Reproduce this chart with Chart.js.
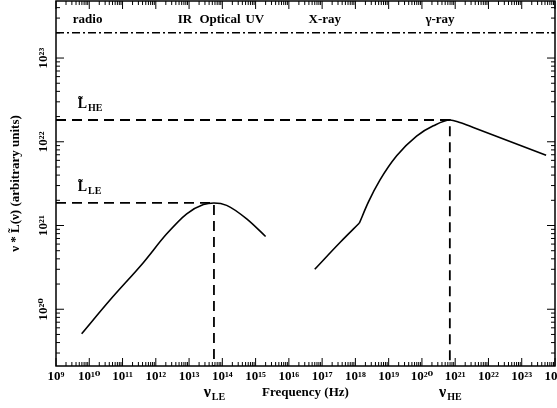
<!DOCTYPE html>
<html>
<head>
<meta charset="utf-8">
<script src="https://cdn.jsdelivr.net/npm/chart.js@4"></script>
<style>
  html, body { margin: 0; padding: 0; background: #fff; }
</style>
</head>
<body>
<canvas id="c" width="557" height="408"></canvas>
<script>
// low energy hump (synchrotron-like)
const lowFreq = [5.9e9, 4.2e10, 4.2e11, 2.1e12, 8.5e12, 2.7e13, 5.6e13, 1.35e14, 5.4e14, 2.0e15];
const lowLum = [5.1e19, 1.29e20, 3.6e20, 7.9e20, 1.38e21, 1.78e21, 1.86e21, 1.74e21, 1.2e21, 7.4e20];

// high energy hump, straight part up to the kink then curved
const highFreq = [6.0e16, 3.5e17, 1.32e18, 2.45e18, 5.5e18, 1.74e19, 6.9e19, 2.2e20, 6.9e20, 1.38e21, 3.5e21, 5.4e23];
const highLum = [3.0e20, 6.3e20, 1.07e21, 1.9e21, 3.5e21, 6.8e21, 1.17e22, 1.55e22, 1.82e22, 1.7e22, 1.48e22, 6.9e21];
const kink = 2;

const nuLE = 5.6e13, nuHE = 6.9e20;
const lumLE = 1.86e21, lumHE = 1.82e22;
const limitLum = 2.0e23;

const bandNames = ['radio', 'IR', 'Optical', 'UV', 'X-ray', '\u03b3-ray'];
const bandFreqs = [8.9e9, 7.5e12, 8.5e13, 9.5e14, 1.2e17, 3.5e20];
const bandLum = 2.6e23;
const peakLabelFreq = 4.5e9;

const xMin = 1e9, xMax = 1e24;
const yMin = 2.1e19, yMax = 4.8e23;

const SERIF = '"Liberation Serif", "DejaVu Serif", serif';
const SUP = { '0': '\u2070', '1': '\u00b9', '2': '\u00b2', '3': '\u00b3', '4': '\u2074', '5': '\u2075', '6': '\u2076', '7': '\u2077', '8': '\u2078', '9': '\u2079' };

function isDecade(v) {
  const e = Math.log10(v);
  return Math.abs(e - Math.round(e)) < 1e-6;
}

function decadeLabel(v) {
  if (!isDecade(v)) return '';
  const e = String(Math.round(Math.log10(v)));
  return '10' + e.split('').map(c => SUP[c]).join('');
}

function logTicks(lo, hi) {
  const out = [];
  for (let e = Math.floor(Math.log10(lo)); e <= Math.ceil(Math.log10(hi)); e++) {
    for (let m = 1; m <= 9; m++) {
      const v = Number(m + 'e' + e);
      if (v >= lo * 0.999 && v <= hi * 1.001) out.push({ value: v });
    }
  }
  return out;
}

const pts = (xs, ys) => xs.map((x, i) => ({ x: x, y: ys[i] }));

function subText(ctx, main, sub, x, y, size, center) {
  ctx.font = 'bold ' + size + 'px ' + SERIF;
  const w1 = ctx.measureText(main).width;
  ctx.font = 'bold 10px ' + SERIF;
  const w2 = ctx.measureText(sub).width;
  const x0 = center ? x - (w1 + w2) / 2 : x;
  ctx.textAlign = 'left';
  ctx.textBaseline = 'alphabetic';
  ctx.font = 'bold ' + size + 'px ' + SERIF;
  ctx.fillText(main, x0, y);
  ctx.font = 'bold 10px ' + SERIF;
  ctx.fillText(sub, x0 + w1 + 1, y + 3);
}

const framePlugin = {
  id: 'frame',
  afterDatasetsDraw(chart) {
    const { ctx, chartArea: a, scales: { x, y } } = chart;
    ctx.save();
    ctx.strokeStyle = '#000';
    ctx.fillStyle = '#000';
    ctx.lineWidth = 1.5;
    ctx.strokeRect(a.left, a.top, a.right - a.left, a.bottom - a.top);

    // inward ticks on all four sides
    ctx.lineWidth = 1;
    ctx.beginPath();
    x.ticks.forEach(t => {
      const px = x.getPixelForValue(t.value);
      const len = isDecade(t.value) ? 8 : 4;
      ctx.moveTo(px, a.bottom); ctx.lineTo(px, a.bottom - len);
      ctx.moveTo(px, a.top); ctx.lineTo(px, a.top + len);
    });
    y.ticks.forEach(t => {
      const py = y.getPixelForValue(t.value);
      const len = isDecade(t.value) ? 8 : 4;
      ctx.moveTo(a.left, py); ctx.lineTo(a.left + len, py);
      ctx.moveTo(a.right, py); ctx.lineTo(a.right - len, py);
    });
    ctx.stroke();

    // band names along the top
    ctx.font = 'bold 13px ' + SERIF;
    ctx.textAlign = 'center';
    ctx.textBaseline = 'alphabetic';
    bandNames.forEach((n, i) => {
      ctx.fillText(n, x.getPixelForValue(bandFreqs[i]), y.getPixelForValue(bandLum));
    });

    // peak labels
    const lx = x.getPixelForValue(peakLabelFreq);
    subText(ctx, 'L\u0303', 'HE', lx, y.getPixelForValue(lumHE) - 12, 14, false);
    subText(ctx, 'L\u0303', 'LE', lx, y.getPixelForValue(lumLE) - 12, 14, false);
    subText(ctx, '\u03bd', 'LE', x.getPixelForValue(nuLE), a.bottom + 31, 16, true);
    subText(ctx, '\u03bd', 'HE', x.getPixelForValue(nuHE), a.bottom + 31, 16, true);
    ctx.restore();
  }
};

const curve = { borderColor: '#000', borderWidth: 1.6, pointRadius: 0, fill: false, cubicInterpolationMode: 'monotone' };
const dashed = { borderColor: '#000', borderWidth: 1.8, pointRadius: 0, fill: false, borderDash: [10, 6], tension: 0 };

const chart = new Chart(document.getElementById('c'), {
  type: 'line',
  data: {
    datasets: [
      Object.assign({ data: pts(lowFreq, lowLum) }, curve),
      Object.assign({ data: pts(highFreq.slice(0, kink + 1), highLum.slice(0, kink + 1)) }, curve),
      Object.assign({ data: pts(highFreq.slice(kink), highLum.slice(kink)) }, curve),
      Object.assign({ data: [{ x: xMin, y: lumLE }, { x: nuLE, y: lumLE }, { x: nuLE, y: yMin }] }, dashed),
      Object.assign({ data: [{ x: xMin, y: lumHE }, { x: nuHE, y: lumHE }, { x: nuHE, y: yMin }] }, dashed),
      Object.assign({ data: [{ x: xMin, y: limitLum }, { x: xMax, y: limitLum }] }, dashed, { borderWidth: 1.5, borderDash: [8, 3, 2, 3] })
    ]
  },
  options: {
    responsive: false,
    animation: false,
    layout: { padding: { left: 0, top: 1, right: 2, bottom: 0 } },
    plugins: { legend: { display: false }, tooltip: { enabled: false } },
    scales: {
      x: {
        type: 'logarithmic',
        min: xMin,
        max: xMax,
        afterBuildTicks: s => { s.ticks = logTicks(xMin, xMax); },
        afterFit: s => { s.height = 42; s.paddingLeft = 0; s.paddingRight = 0; },
        grid: { display: false, drawTicks: false },
        border: { display: false },
        ticks: {
          autoSkip: false, minRotation: 0, maxRotation: 0, padding: 3,
          color: '#000', font: { family: SERIF, size: 13, weight: 'bold' },
          callback: v => decadeLabel(v)
        },
        title: {
          display: true, text: 'Frequency (Hz)', color: '#000',
          font: { family: SERIF, size: 13, weight: 'bold' },
          padding: { top: 0, bottom: 8 }
        }
      },
      y: {
        type: 'logarithmic',
        min: yMin,
        max: yMax,
        afterBuildTicks: s => { s.ticks = logTicks(yMin, yMax); },
        afterFit: s => { s.width = 56; s.paddingTop = 0; s.paddingBottom = 0; },
        grid: { display: false, drawTicks: false },
        border: { display: false },
        ticks: {
          autoSkip: false, minRotation: 90, maxRotation: 90, crossAlign: 'center', padding: 1,
          color: '#000', font: { family: SERIF, size: 13, weight: 'bold' },
          callback: v => decadeLabel(v)
        },
        title: {
          display: true, text: '\u03bd * L\u0303(\u03bd) (arbitrary units)', color: '#000',
          font: { family: SERIF, size: 13, weight: 'bold' },
          padding: { top: 8, bottom: 0 }
        }
      }
    }
  },
  plugins: [framePlugin]
});
</script>
</body>
</html>
